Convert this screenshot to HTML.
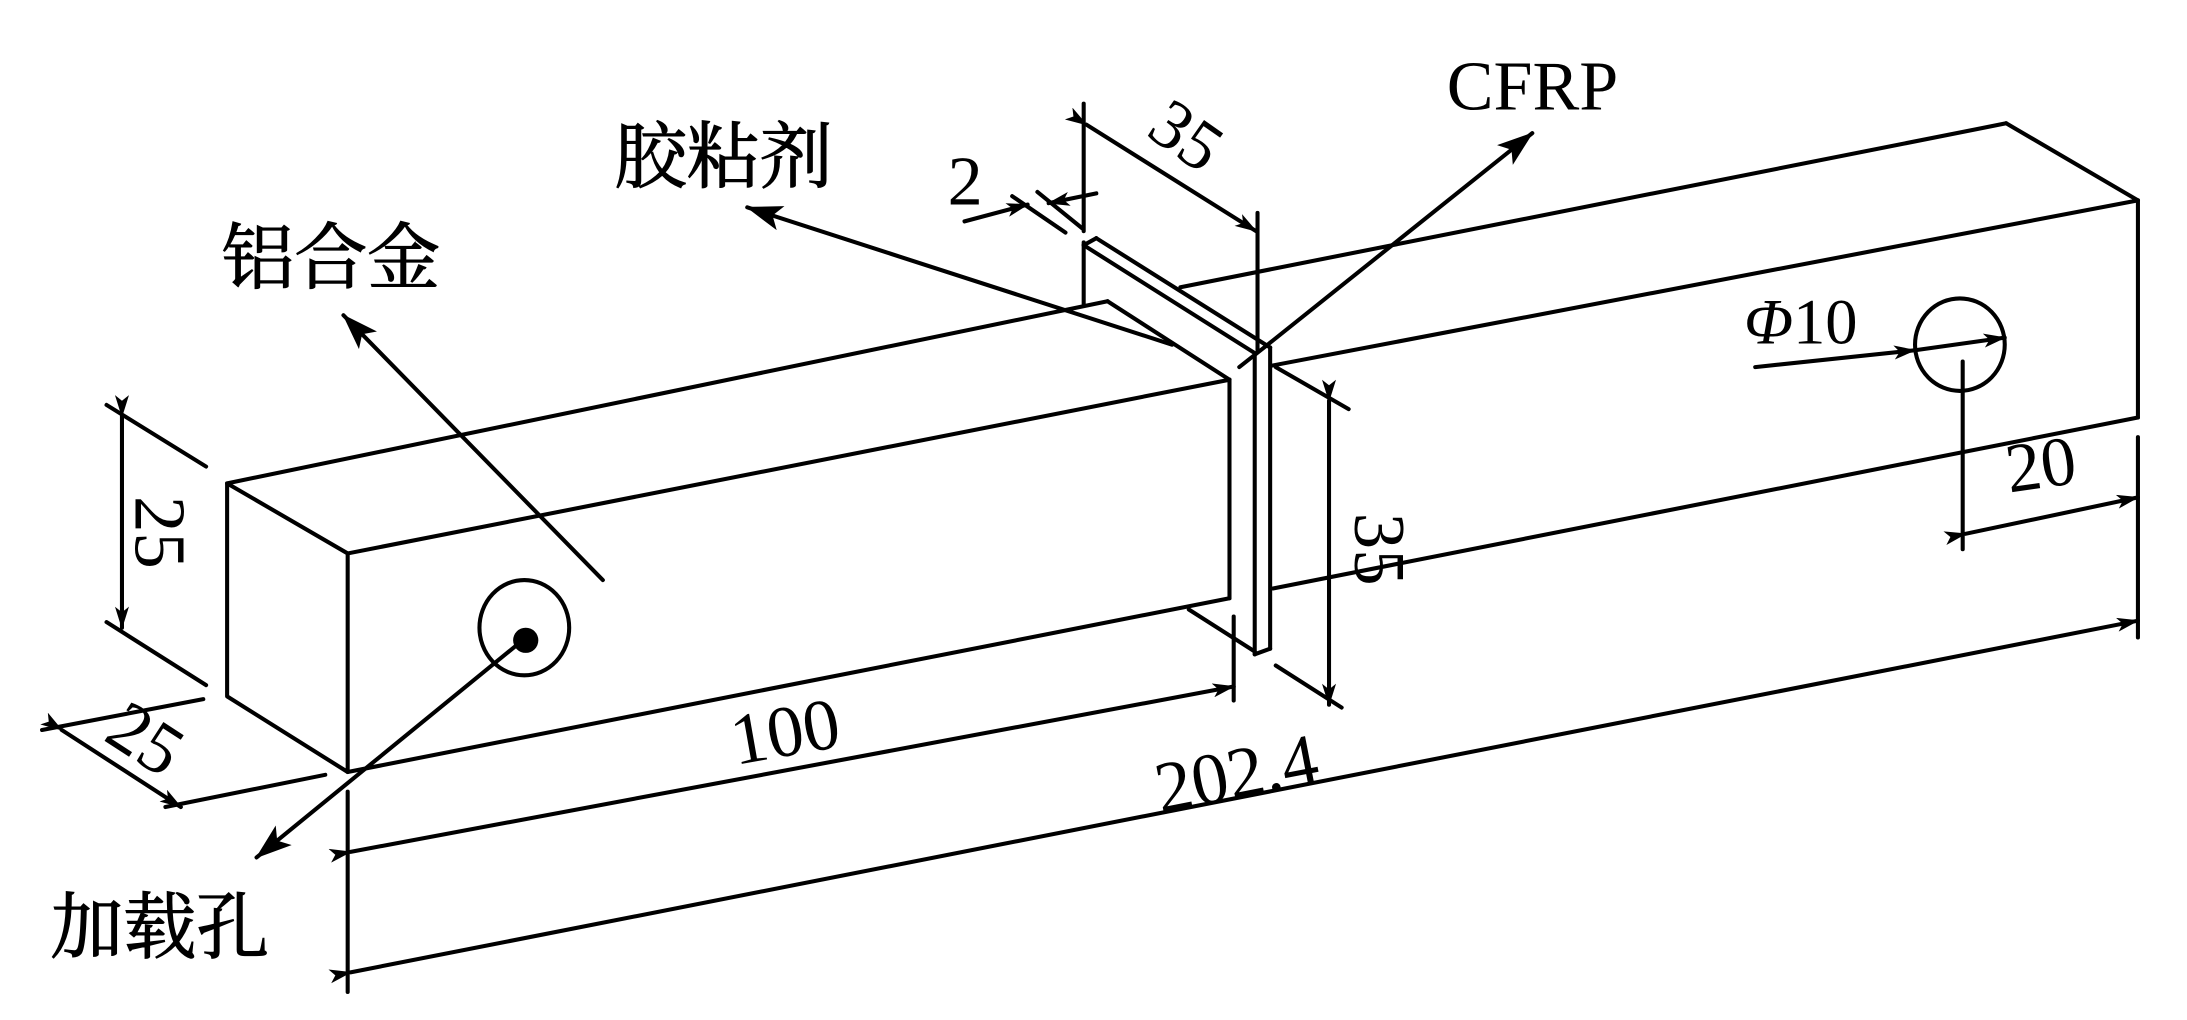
<!DOCTYPE html>
<html><head><meta charset="utf-8"><style>
html,body{margin:0;padding:0;background:#fff;}
svg{display:block;}
.n{font-family:"Liberation Serif",serif;fill:#000;}
.c{font-family:"Liberation Serif","Noto Serif CJK SC",serif;fill:#000;stroke:#000;stroke-width:0.8;}
</style></head><body>
<svg width="2187" height="1020" viewBox="0 0 1560 728" preserveAspectRatio="none" xmlns="http://www.w3.org/2000/svg">
<defs>
<marker id="a" markerUnits="userSpaceOnUse" markerWidth="16" markerHeight="10" refX="15" refY="5" orient="auto"><path d="M0,0 L16,5 L0,10 L4,5 Z" fill="#000"/></marker>
<marker id="L" markerUnits="userSpaceOnUse" markerWidth="26" markerHeight="18" refX="25" refY="9" orient="auto"><path d="M0,0 L26,9 L0,18 L6,9 Z" fill="#000"/></marker>
</defs>
<g stroke="#000" stroke-width="2.9" fill="none" stroke-linejoin="round" stroke-linecap="round">
<polygon points="162,345 248,395 248,551 162,497"/>
<line x1="162" y1="345" x2="790" y2="215"/>
<line x1="248" y1="395" x2="877" y2="271"/>
<line x1="248" y1="551" x2="877" y2="427"/>
<line x1="790" y1="215" x2="877" y2="271"/>
<line x1="877" y1="271" x2="877" y2="427"/>
<line x1="773" y1="173" x2="773" y2="217"/>
<line x1="773" y1="175" x2="895" y2="252"/>
<line x1="782" y1="170" x2="906" y2="248"/>
<line x1="773" y1="175" x2="782" y2="170"/>
<line x1="884" y1="262" x2="903" y2="247"/>
<line x1="895" y1="252" x2="895" y2="467"/>
<line x1="906" y1="248" x2="906" y2="463"/>
<line x1="895" y1="467" x2="906" y2="463"/>
<line x1="848" y1="435" x2="895" y2="465"/>
<line x1="842" y1="205" x2="1431" y2="88"/>
<line x1="907" y1="261" x2="1525" y2="143"/>
<line x1="908" y1="420" x2="1525" y2="298"/>
<line x1="1431" y1="88" x2="1525" y2="143"/>
<line x1="1525" y1="143" x2="1525" y2="298"/>
<ellipse cx="374" cy="448" rx="32" ry="34"/>
<ellipse cx="1398" cy="246" rx="32" ry="33"/>
<line x1="76" y1="289" x2="147" y2="333"/>
<line x1="76" y1="444" x2="147" y2="489"/>
<line x1="87" y1="297" x2="87" y2="448" marker-start="url(#a)" marker-end="url(#a)"/>
<line x1="30" y1="521" x2="145" y2="499"/>
<line x1="118" y1="576" x2="232" y2="553"/>
<line x1="44" y1="521" x2="129" y2="576" marker-start="url(#a)" marker-end="url(#a)"/>
<line x1="248" y1="565" x2="248" y2="708"/>
<line x1="880" y1="440" x2="880" y2="500"/>
<line x1="1525" y1="312" x2="1525" y2="455"/>
<line x1="1400" y1="258" x2="1400" y2="392"/>
<line x1="250" y1="608" x2="880" y2="490" marker-start="url(#a)" marker-end="url(#a)"/>
<line x1="250" y1="694" x2="1525" y2="443" marker-start="url(#a)" marker-end="url(#a)"/>
<line x1="1402" y1="381" x2="1525" y2="355" marker-start="url(#a)" marker-end="url(#a)"/>
<line x1="910" y1="262" x2="962" y2="292"/>
<line x1="910" y1="475" x2="957" y2="505"/>
<line x1="948" y1="286" x2="948" y2="503" marker-start="url(#a)" marker-end="url(#a)"/>
<line x1="773" y1="74" x2="773" y2="165"/>
<line x1="897" y1="152" x2="897" y2="250"/>
<line x1="775" y1="89" x2="896" y2="165" marker-start="url(#a)" marker-end="url(#a)"/>
<line x1="722" y1="140" x2="760" y2="166"/>
<line x1="740" y1="137" x2="772" y2="163"/>
<line x1="688" y1="158" x2="733" y2="146" marker-end="url(#a)"/>
<line x1="782" y1="138" x2="748" y2="145" marker-end="url(#a)"/>
<line x1="1252" y1="262" x2="1366" y2="250" marker-end="url(#a)"/>
<line x1="1366" y1="250" x2="1430" y2="241" marker-end="url(#a)"/>
<line x1="430" y1="414" x2="245" y2="225" marker-end="url(#L)"/>
<line x1="836" y1="246" x2="533" y2="148" marker-end="url(#L)"/>
<line x1="903" y1="247" x2="1093" y2="95" marker-end="url(#L)"/>
<line x1="374" y1="456" x2="183" y2="612" marker-end="url(#L)"/>
</g>
<circle cx="375" cy="457" r="9" fill="#000"/>
<text class="c" x="158" y="202" font-size="52">铝合金</text>
<text class="c" x="438" y="130" font-size="52">胶粘剂</text>
<text class="c" x="36" y="680" font-size="52">加载孔</text>
<text class="n" x="1032" y="78" font-size="50">CFRP</text>
<text class="n" x="676" y="146" font-size="50">2</text>
<text class="n" x="846" y="97" font-size="50" text-anchor="middle" dominant-baseline="central" transform="rotate(35 846 97)">35</text>
<text class="n" x="114" y="380" font-size="52" text-anchor="middle" dominant-baseline="central" transform="rotate(90 114 380)">25</text>
<text class="n" x="104" y="527" font-size="52" text-anchor="middle" dominant-baseline="central" transform="rotate(33 104 527)">25</text>
<text class="n" x="984" y="392" font-size="52" text-anchor="middle" dominant-baseline="central" transform="rotate(90 984 392)">35</text>
<text class="n" x="560" y="522" font-size="52" text-anchor="middle" dominant-baseline="central" transform="rotate(-10 560 522)">100</text>
<text class="n" x="882" y="552" font-size="52" text-anchor="middle" dominant-baseline="central" transform="rotate(-11 882 552)">202.4</text>
<text class="n" x="1458" y="348" font-size="50" text-anchor="middle" transform="rotate(-8 1458 348)">20</text>
<text class="n" x="1244" y="245" font-size="46"><tspan font-style="italic">Φ</tspan>10</text>
</svg>
</body></html>
